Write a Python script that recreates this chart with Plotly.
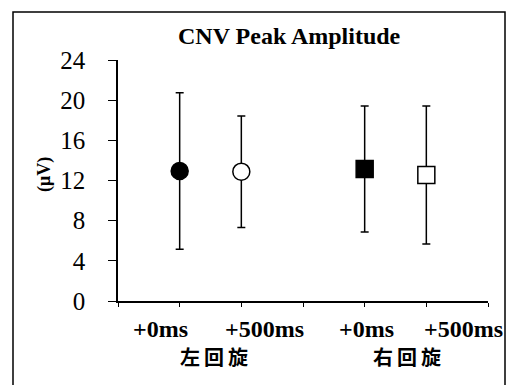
import plotly.graph_objects as go

# Data
positions = [1, 2, 4, 5]
means = [12.95, 12.88, 13.15, 12.55]
errors = [7.8, 5.55, 6.28, 6.87]
symbols = ["circle", "circle", "square", "square"]
fills = ["black", "white", "black", "white"]
time_labels = ["+0ms", "+500ms", "+0ms", "+500ms"]
group_labels = ["左回旋", "右回旋"]
y_ticks = [0, 4, 8, 12, 16, 20, 24]

W, H = 507, 385
L, R, T, B = 118, 488, 60, 301

def px(x):
    return (x - L) / (R - L)

def py(y):
    return (B - y) / (B - T)

fig = go.Figure()
fig.add_trace(go.Scatter(
    x=positions, y=means, mode="markers",
    error_y=dict(type="data", array=errors, visible=True, color="black", thickness=1.5, width=4),
    marker=dict(symbol=symbols, color=fills, size=17, line=dict(color="black", width=1.5)),
    showlegend=False, hoverinfo="skip",
))

serif = "Liberation Serif"
cjk = "Noto Sans CJK SC"

ann = []
ann.append(dict(text="<b>CNV Peak Amplitude</b>", x=px(289), y=py(36), xref="paper", yref="paper",
                showarrow=False, font=dict(family=serif, size=24, color="black"), xanchor="center", yanchor="middle"))
ann.append(dict(text="<b>(μV)</b>", x=px(44), y=py(175), xref="paper", yref="paper", textangle=-90,
                showarrow=False, font=dict(family=serif, size=18, color="black"), xanchor="center", yanchor="middle"))
time_centers = [160, 264, 366, 463]
for lab, cx in zip(time_labels, time_centers):
    ann.append(dict(text="<b>" + lab + "</b>", x=px(cx), y=py(329), xref="paper", yref="paper",
                    showarrow=False, font=dict(family=serif, size=24, color="black"), xanchor="center", yanchor="middle"))
group_centers = [214, 407]
for lab, cx in zip(group_labels, group_centers):
    ann.append(dict(text="<b>" + "\u2009".join(lab) + "</b>", x=px(cx), y=py(356), xref="paper", yref="paper",
                    showarrow=False, font=dict(family=cjk, size=20, color="black"), xanchor="center", yanchor="middle"))

fig.update_layout(
    width=W, height=H,
    margin=dict(l=L, r=W - R, t=T, b=H - B, pad=0),
    paper_bgcolor="white", plot_bgcolor="white",
    annotations=ann,
    shapes=[dict(type="rect", xref="paper", yref="paper", x0=px(13), x1=px(505), y0=py(12), y1=py(390),
                 line=dict(color="black", width=1.5), fillcolor="rgba(0,0,0,0)", layer="below")],
    xaxis=dict(range=[0, 6], tickvals=[0, 1, 2, 3, 4, 5, 6], showticklabels=False, ticks="outside",
               ticklen=4, tickwidth=1.2, tickcolor="black", showline=True, linecolor="black", linewidth=1.5,
               showgrid=False, zeroline=False, fixedrange=True),
    yaxis=dict(range=[0, 24], tickvals=y_ticks, ticks="outside", ticklen=8, tickwidth=1.2, tickcolor="black",
               showline=True, linecolor="black", linewidth=1.5, showgrid=False, zeroline=False,
               tickfont=dict(family=serif, size=25, color="black"), ticklabelstandoff=18, fixedrange=True),
)

fig.write_html("out.html")
